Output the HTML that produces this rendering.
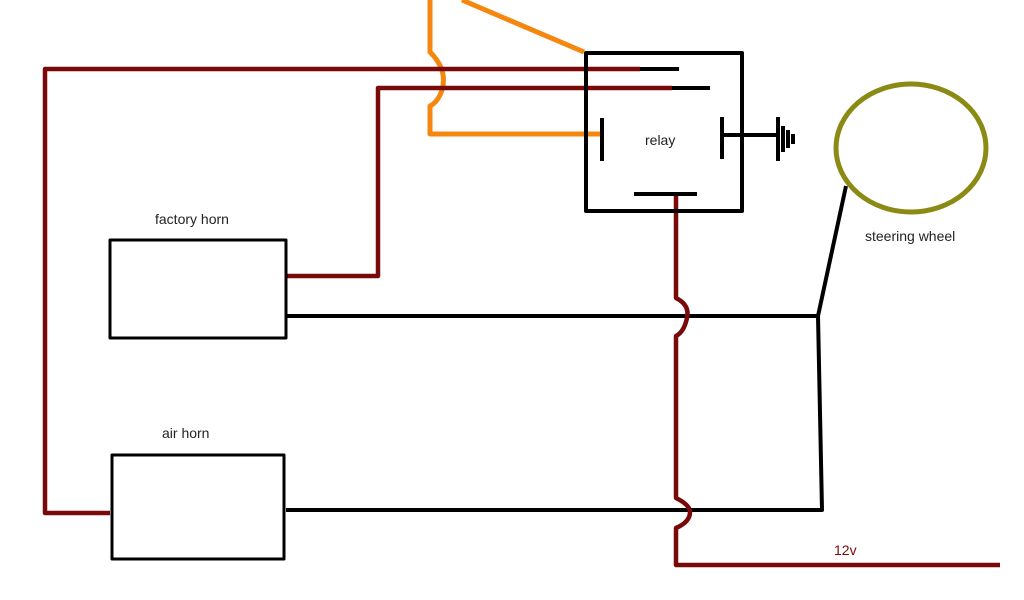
<!DOCTYPE html>
<html><head><meta charset="utf-8"><style>
html,body{margin:0;padding:0;background:#fff;width:1024px;height:600px;overflow:hidden}
svg{display:block}
text{font-family:"Liberation Sans",sans-serif;font-size:14px;fill:#222}
</style></head><body>
<svg width="1024" height="600" viewBox="0 0 1024 600" xmlns="http://www.w3.org/2000/svg">
<g fill="none" stroke-linejoin="round">
<!-- black wires -->
<path d="M286 316 L818 316 L822 510 L286 510" stroke="#000" stroke-width="4"/>
<path d="M818 316 L846 186" stroke="#000" stroke-width="4"/>
<!-- orange -->
<path d="M430 0 L430 52 Q448 70 442 90 Q438 102 430 106 L430 134 L602 134" stroke="#f5870f" stroke-width="5"/>
<path d="M462 0 L584 52" stroke="#f5870f" stroke-width="5"/>
<!-- dark red wires -->
<path d="M640 69 L45 69 L45 513 L110 513" stroke="#7a0a0a" stroke-width="4.5"/>
<path d="M672 88 L378 88 L378 276 L286 276" stroke="#7a0a0a" stroke-width="4.5"/>
<path d="M676 195 L676 298 Q690 305 687 318 Q684 332 676 336 L676 498 Q690 505 690 512 Q690 522 676 528 L676 565 L1000 565" stroke="#7a0a0a" stroke-width="4.5"/>
<!-- relay box -->
<rect x="586" y="53" width="156" height="158" stroke="#000" stroke-width="4"/>
<path d="M640 69 L679 69 M672 88 L710 88 M602 118 L602 161 M634 194 L697 194 M722 117 L722 159 M722 135 L778 135 M778 117 L778 161 M783 126 L783 152 M788 130 L788 148 M793 134 L793 144" stroke="#000" stroke-width="4"/>
<!-- horns -->
<rect x="110" y="240" width="176" height="98" stroke="#000" stroke-width="3"/>
<rect x="112" y="455" width="172" height="104" stroke="#000" stroke-width="3"/>
<!-- steering wheel -->
<ellipse cx="911" cy="148" rx="75" ry="64" stroke="#8a8a14" stroke-width="5"/>
</g>
<text x="645" y="145">relay</text>
<text x="155" y="224">factory horn</text>
<text x="162" y="438">air horn</text>
<text x="865" y="241">steering wheel</text>
<text x="834" y="555" style="fill:#7a0a0a">12v</text>
</svg>
</body></html>
